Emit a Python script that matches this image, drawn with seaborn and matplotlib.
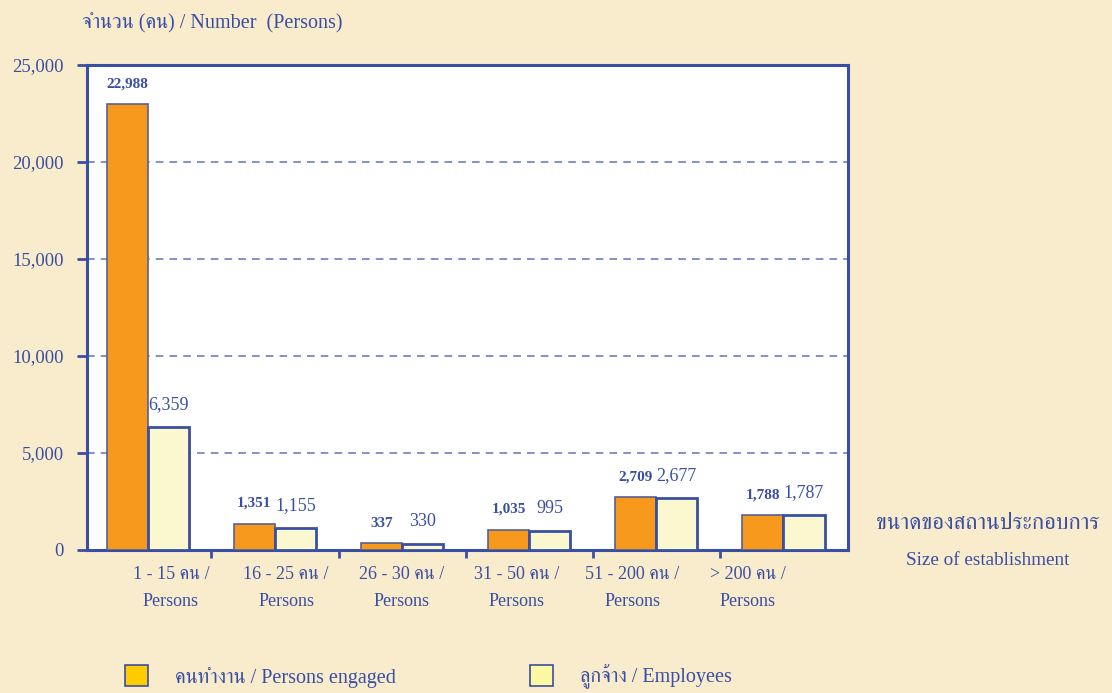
import matplotlib
matplotlib.use("Agg")
import matplotlib.pyplot as plt
from matplotlib.patches import Patch
import pandas as pd
import seaborn as sns

sizes = ["1 - 15 คน /\nPersons", "16 - 25 คน /\nPersons", "26 - 30 คน /\nPersons",
         "31 - 50 คน /\nPersons", "51 - 200 คน /\nPersons", "> 200 คน /\nPersons"]
engaged = [22988, 1351, 337, 1035, 2709, 1788]
employees = [6359, 1155, 330, 995, 2677, 1787]
series = ["คนทำงาน / Persons engaged", "ลูกจ้าง / Employees"]
yticks = [0, 5000, 10000, 15000, 20000, 25000]

df = pd.DataFrame({
    "size": sizes * 2,
    "series": [series[0]] * len(sizes) + [series[1]] * len(sizes),
    "value": engaged + employees,
})

sns.set_theme(style="white")
plt.rcParams["font.family"] = ["Liberation Serif", "FreeSerif"]

blue = "#3a4fa3"
fig = plt.figure(figsize=(11.12, 6.93), dpi=100, facecolor="#f9eccd")
ax = fig.add_axes([0.0782, 0.2064, 0.6844, 0.6998])
ax.set_facecolor("white")

sns.barplot(data=df, x="size", y="value", hue="series", order=sizes, hue_order=series,
            palette=["#f7991c", "#fbf8cf"], width=0.65, gap=0, saturation=1,
            legend=False, ax=ax)

# bar edges: thin grey-blue on orange, heavier blue on the pale bars
for i, c in enumerate(ax.containers):
    for b in c:
        b.set_edgecolor("#55609a" if i == 0 else blue)
        b.set_linewidth(1.2 if i == 0 else 2.0)
        b.set_zorder(3)

for c, bold in zip(ax.containers, [True, False]):
    labels = ["{:,}".format(int(round(b.get_height()))) for b in c]
    ax.bar_label(c, labels=labels, padding=10, color=blue,
                 fontsize=11 if bold else 13,
                 fontweight="bold" if bold else "normal")

ax.set_ylim(0, 25000)
ax.set_xlim(-0.48, 5.51)
ax.set_yticks(yticks)
ax.set_yticklabels(["{:,}".format(v) for v in yticks], color=blue, fontsize=13.5)
ax.yaxis.grid(True, linestyle=(0, (5, 4)), color="#6272bc", linewidth=1.1)
ax.set_axisbelow(True)

for s in ax.spines.values():
    s.set_visible(True)
    s.set_color(blue)
    s.set_linewidth(2.2)
ax.tick_params(axis="y", direction="out", length=7, width=2, color=blue, pad=9.5, left=True)

# separator ticks between groups; labels written below
ax.set_xticks([i + 0.5 for i in range(len(sizes) - 1)])
ax.set_xticklabels([])
ax.tick_params(axis="x", direction="out", length=6, width=2, color=blue, bottom=True)
for i, lab in enumerate(sizes):
    ax.text(0.18 + i * 0.908, -0.033, lab, transform=ax.get_xaxis_transform(),
            ha="center", va="top", color=blue, fontsize=13, linespacing=1.8)

ax.set_xlabel("")
ax.set_ylabel("")
fig.text(0.074, 0.966, "จำนวน (คน) / Number  (Persons)", color=blue, fontsize=14.5,
         ha="left", va="center")
fig.text(0.888, 0.245, "ขนาดของสถานประกอบการ", color=blue, fontsize=16.5,
         ha="center", va="center")
fig.text(0.888, 0.191, "Size of establishment", color=blue, fontsize=13.8,
         ha="center", va="center")

handles = [Patch(facecolor="#ffcc00", edgecolor=blue, linewidth=1.2),
           Patch(facecolor="#fdf8a4", edgecolor=blue, linewidth=1.2)]
fig.legend(handles, series, loc="lower left", bbox_to_anchor=(0.096, -0.021), ncol=2,
           frameon=False, fontsize=14.5, handlelength=1.14, handleheight=1.24,
           handletextpad=1.34, columnspacing=6.67, labelcolor=blue)

fig.savefig("out.png", dpi=100, facecolor=fig.get_facecolor())
